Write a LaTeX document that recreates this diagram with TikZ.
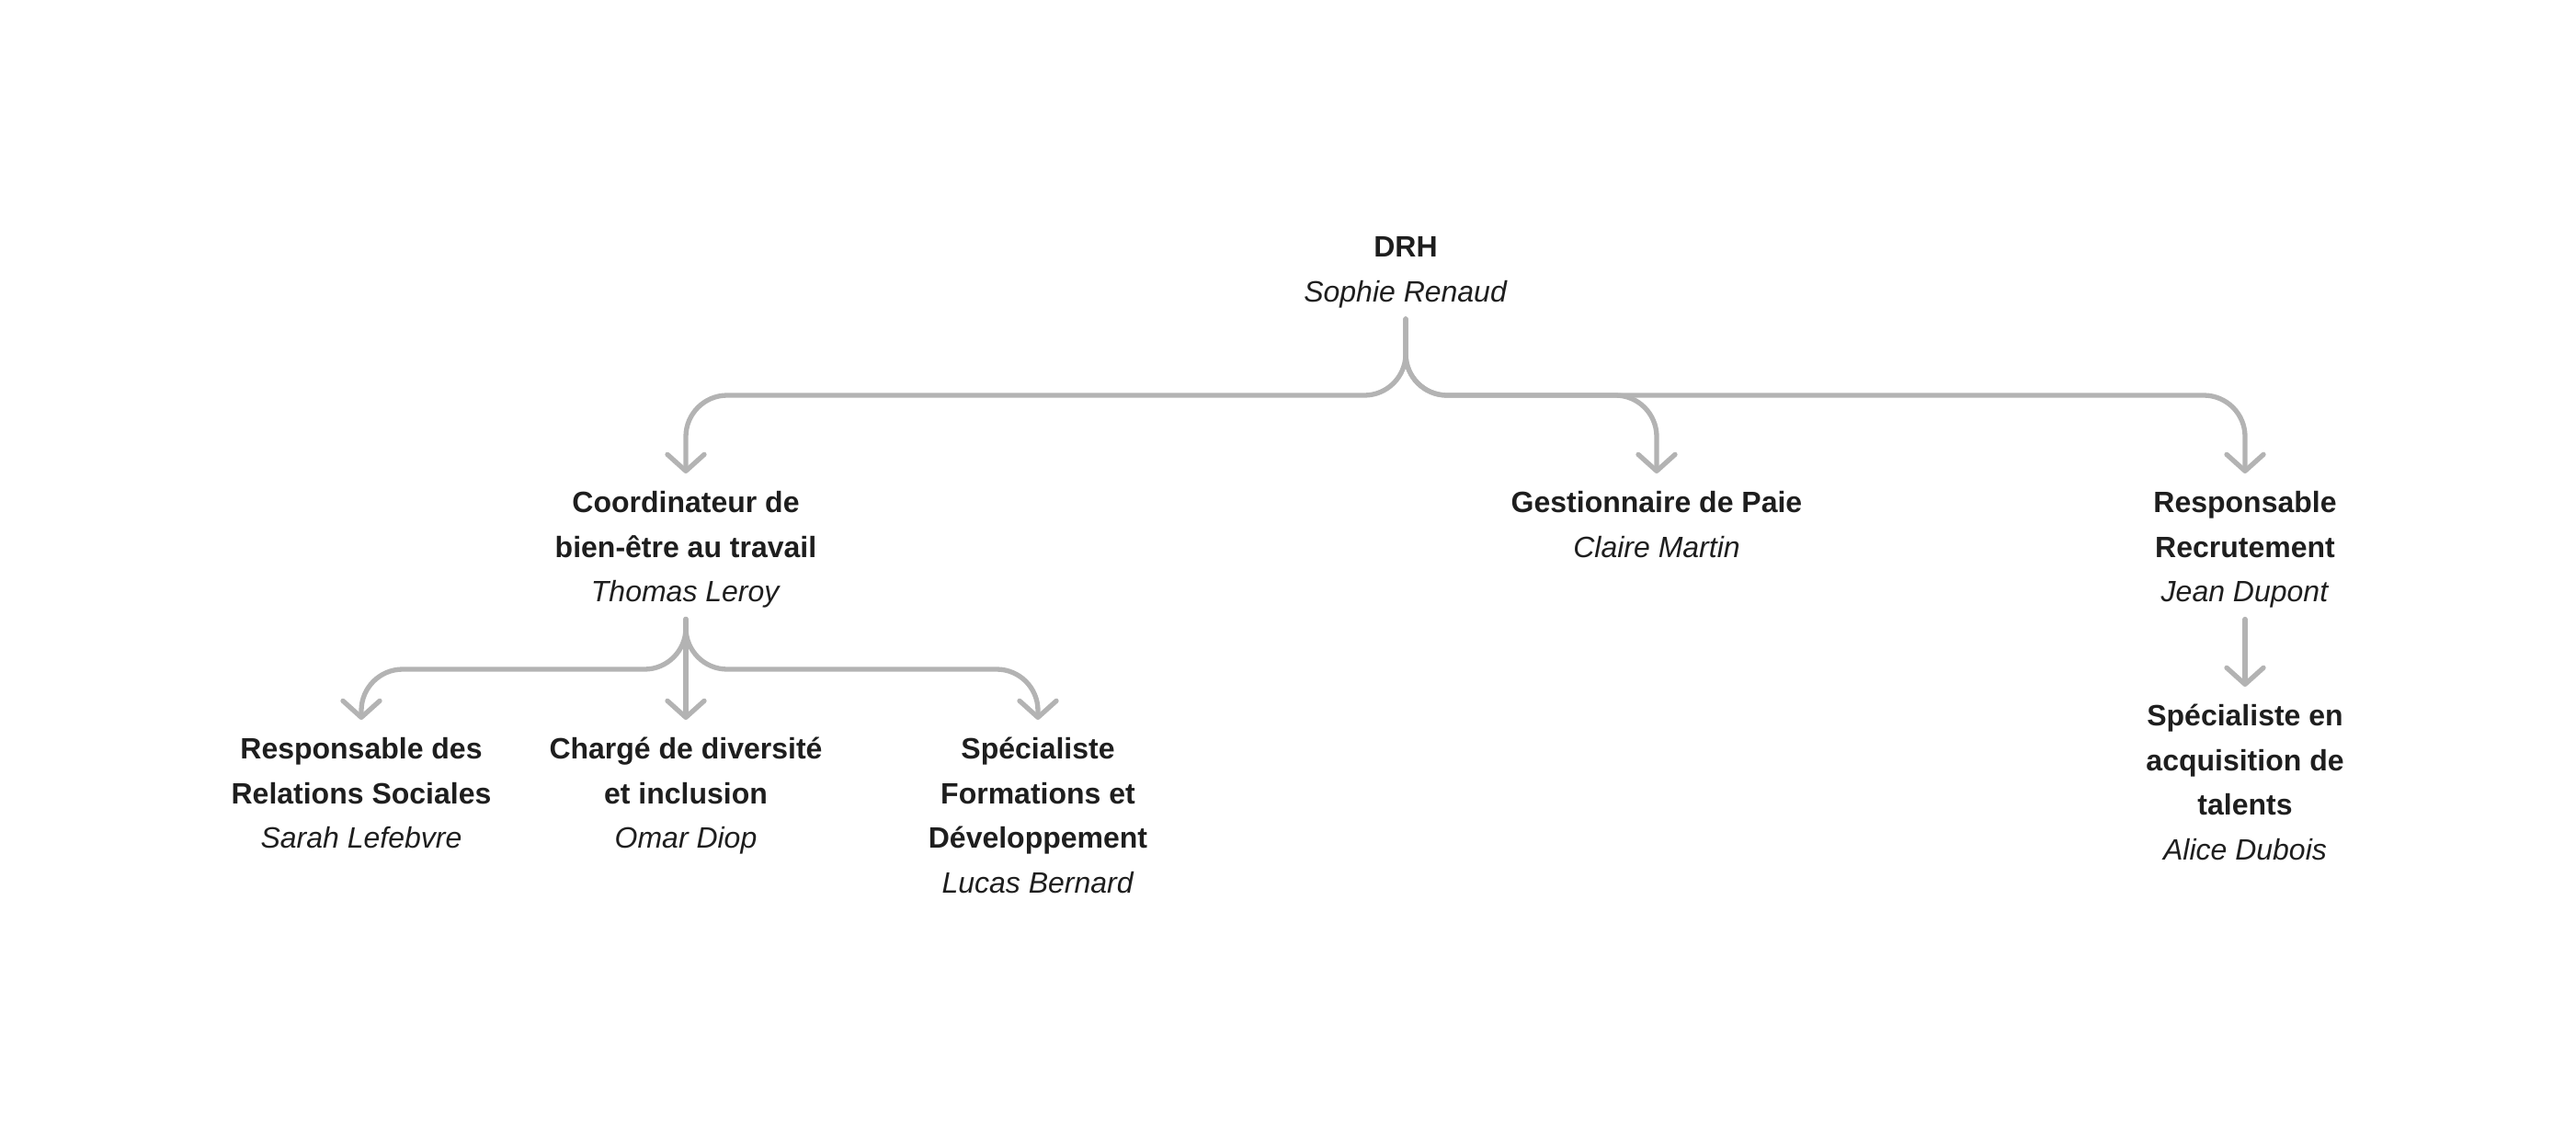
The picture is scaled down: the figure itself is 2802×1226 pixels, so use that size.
\documentclass[tikz,border=0pt]{standalone}
\usepackage{fontspec}
\setmainfont{Liberation Sans}
\usetikzlibrary{arrows.meta}
\definecolor{ink}{HTML}{1E1E1E}
\definecolor{wire}{HTML}{B3B3B3}
\newcommand\ptitle[1]{\textbf{\strut #1}}
\newcommand\pname[1]{\textit{\strut #1}}
\tikzset{
  person/.style={align=center, inner sep=0pt, outer sep=0pt, anchor=north,
    font=\fontsize{32}{48.5}\selectfont, text=ink},
  conn/.style={draw=wire, line width=5.3pt, line cap=round, line join=round,
    rounded corners=45pt, shorten <=4pt, shorten >=9pt,
    -{Straight Barb[length=18pt,width=40pt,round]}},
  trunk/.style={draw=wire, line width=5.3pt, line cap=round, line join=round,
    rounded corners=45pt, shorten <=4pt}
}
\begin{document}
\begin{tikzpicture}[x=1pt,y=-1pt]
\useasboundingbox (0,0) rectangle (2802,1226);

\node[person] (drh) at (1529,246) {\ptitle{DRH}\\\pname{Sophie Renaud}};

\node[person] (coord) at (746,524) {\ptitle{Coordinateur de}\\\ptitle{bien-être au travail}\\\pname{Thomas Leroy}};
\node[person] (gest) at (1802,524) {\ptitle{Gestionnaire de Paie}\\\pname{Claire Martin}};
\node[person] (recr) at (2442,524) {\ptitle{Responsable}\\\ptitle{Recrutement}\\\pname{Jean Dupont}};

\node[person] (rel) at (393,792) {\ptitle{Responsable des}\\\ptitle{Relations Sociales}\\\pname{Sarah Lefebvre}};
\node[person] (div) at (746,792) {\ptitle{Chargé de diversité}\\\ptitle{et inclusion}\\\pname{Omar Diop}};
\node[person] (form) at (1129,792) {\ptitle{Spécialiste}\\\ptitle{Formations et}\\\ptitle{Développement}\\\pname{Lucas Bernard}};

\node[person] (acq) at (2442,756) {\ptitle{Spécialiste en}\\\ptitle{acquisition de}\\\ptitle{talents}\\\pname{Alice Dubois}};

\coordinate (bus1) at (0,430);
\coordinate (bus2) at (0,728);

\draw[conn] (drh.south) -- (drh.south |- bus1) -- (coord.north |- bus1) -- (coord.north);
\draw[conn] (drh.south) -- (drh.south |- bus1) -- (gest.north |- bus1) -- (gest.north);
\draw[conn] (drh.south) -- (drh.south |- bus1) -- (recr.north |- bus1) -- (recr.north);

\draw[conn] (coord.south) -- (coord.south |- bus2) -- (rel.north |- bus2) -- (rel.north);
\draw[conn] (coord.south) -- (div.north);
\draw[conn] (coord.south) -- (coord.south |- bus2) -- (form.north |- bus2) -- (form.north);

\draw[conn] (recr.south) -- (acq.north);
\end{tikzpicture}
\end{document}
